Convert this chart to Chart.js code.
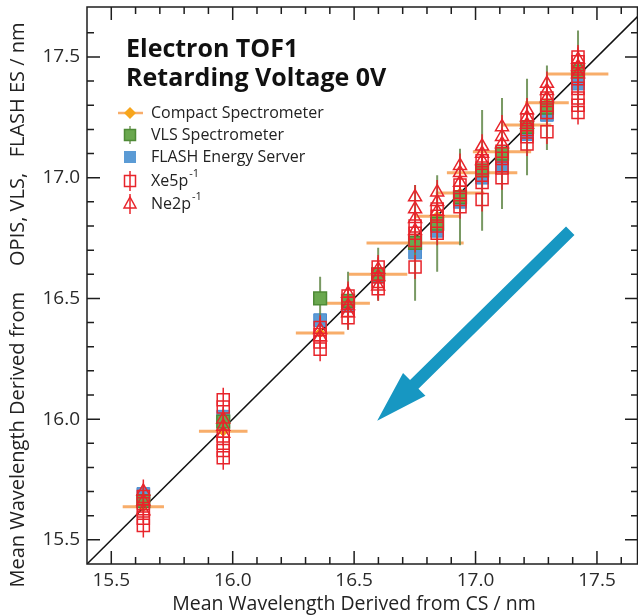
<!DOCTYPE html>
<html>
<head>
<meta charset="utf-8">
<script src="https://cdn.jsdelivr.net/npm/chart.js@4.4.0/dist/chart.umd.min.js"></script>
<style>
  html, body { margin: 0; padding: 0; background: #fff; }
  canvas { display: block; }
</style>
</head>
<body>
<canvas id="chart" width="638" height="616"></canvas>
<script>
// CS wavelength of each measurement run (nm)
const groupX = [15.632, 15.961, 16.36, 16.475, 16.599, 16.751, 16.842, 16.936, 17.027, 17.109, 17.212, 17.294, 17.422];

// compact spectrometer: value and horizontal uncertainty
const compactY = [15.637, 15.95, 16.357, 16.48, 16.60, 16.73, 16.84, 16.937, 17.02, 17.107, 17.218, 17.31, 17.43];
const compactErr = [0.085, 0.1, 0.1, 0.09, 0.12, 0.2, 0.09, 0.1, 0.145, 0.12, 0.1, 0.09, 0.125];

// VLS spectrometer with vertical uncertainty
const vlsY = [15.66, 15.99, 16.50, 16.49, 16.60, 16.73, 16.81, 16.92, 17.03, 17.10, 17.21, 17.29, 17.44];
const vlsErr = [0.04, 0.05, 0.09, 0.12, 0.11, 0.24, 0.2, 0.2, 0.25, 0.23, 0.2, 0.175, 0.17];

// FLASH energy server
const flashY = [15.69, 16.01, 16.41, 16.47, 16.59, 16.69, 16.78, 16.90, 17.00, 17.05, 17.18, 17.26, 17.39];

// OPIS Xe 5p^-1 line, several shots per run
const xeY = [
  [15.56, 15.59, 15.62, 15.65, 15.68],
  [15.84, 15.87, 15.90, 15.93, 16.05, 16.08],
  [16.29, 16.32, 16.35, 16.38],
  [16.42, 16.45, 16.48, 16.51],
  [16.54, 16.57, 16.60, 16.63],
  [16.63, 16.74, 16.77, 16.80],
  [16.77, 16.80, 16.84, 16.87],
  [16.88, 16.91, 16.94, 16.97],
  [16.91, 16.98, 17.01, 17.04, 17.07],
  [17.00, 17.04, 17.08, 17.11],
  [17.14, 17.17, 17.20, 17.24],
  [17.19, 17.27, 17.30, 17.33],
  [17.27, 17.30, 17.33, 17.37, 17.41, 17.45, 17.48, 17.50]
];

// OPIS Ne 2p^-1 line
const neY = [
  [15.62, 15.66, 15.70],
  [15.94, 15.97, 16.00],
  [16.34, 16.37],
  [16.44, 16.47, 16.52],
  [16.55, 16.59, 16.62],
  [16.78, 16.83, 16.87, 16.92],
  [16.86, 16.90, 16.94],
  [16.98, 17.02, 17.05],
  [17.07, 17.10, 17.13],
  [17.14, 17.17, 17.21],
  [17.22, 17.25, 17.28],
  [17.33, 17.36, 17.39],
  [17.43, 17.46, 17.49]
];
const opisErr = 0.05;

const tickValues = [15.5, 16.0, 16.5, 17.0, 17.5];

const RED = '#e8242b';
const ORANGE_BAR = '#f8ad6a';
const GREEN_BAR = 'rgba(98,135,72,0.85)';
const FONT = "'Open Sans', 'Noto Sans', sans-serif";

// build point lists
const xePts = [], nePts = [];
groupX.forEach((x, g) => {
  xeY[g].forEach(y => xePts.push({ x: x, y: y }));
  neY[g].forEach(y => nePts.push({ x: x, y: y }));
});
const compactPts = groupX.map((x, i) => ({ x: x, y: compactY[i] }));
const vlsPts = groupX.map((x, i) => ({ x: x, y: vlsY[i] }));
const flashPts = groupX.map((x, i) => ({ x: x, y: flashY[i] }));

// error bars are drawn just before their own dataset
const errorBars = {
  id: 'errorBars',
  beforeDatasetDraw(chart, args) {
    const ds = chart.data.datasets[args.index];
    if (!ds.errX && !ds.errY) return;
    const { ctx, chartArea: a, scales: { x, y } } = chart;
    ctx.save();
    ctx.beginPath();
    ctx.rect(a.left, a.top, a.right - a.left, a.bottom - a.top);
    ctx.clip();
    ctx.strokeStyle = ds.errColor;
    ctx.lineWidth = ds.errWidth;
    ctx.beginPath();
    ds.data.forEach((p, i) => {
      const px = x.getPixelForValue(p.x), py = y.getPixelForValue(p.y);
      if (ds.errY) {
        const e = Array.isArray(ds.errY) ? ds.errY[i] : ds.errY;
        ctx.moveTo(px, y.getPixelForValue(p.y - e));
        ctx.lineTo(px, y.getPixelForValue(p.y + e));
      }
      if (ds.errX) {
        const e = Array.isArray(ds.errX) ? ds.errX[i] : ds.errX;
        ctx.moveTo(x.getPixelForValue(p.x - e), py);
        ctx.lineTo(x.getPixelForValue(p.x + e), py);
      }
    });
    ctx.stroke();
    ctx.restore();
  }
};

// frame with inward ticks on all four sides, arrow, title, legend
const decor = {
  id: 'decor',
  afterDatasetsDraw(chart) {
    const { ctx, chartArea: a, scales: { x, y } } = chart;
    ctx.save();
    ctx.strokeStyle = '#1e1e1e';
    ctx.lineWidth = 1.5;
    ctx.strokeRect(a.left, a.top, a.right - a.left - 0.5, a.bottom - a.top);
    ctx.beginPath();
    for (let k = 150; k <= 180; k++) {
      const v = k / 10, len = k % 5 === 0 ? 13 : 7;
      const px = x.getPixelForValue(v);
      if (px > a.left + 3 && px < a.right - 3) {
        ctx.moveTo(px, a.bottom); ctx.lineTo(px, a.bottom - len);
        ctx.moveTo(px, a.top); ctx.lineTo(px, a.top + len);
      }
      const py = y.getPixelForValue(v);
      if (py > a.top + 3 && py < a.bottom - 3) {
        ctx.moveTo(a.left, py); ctx.lineTo(a.left + len, py);
        ctx.moveTo(a.right, py); ctx.lineTo(a.right - len, py);
      }
    }
    ctx.stroke();

    // blue arrow, placed in data units
    const x0 = x.getPixelForValue(17.39), y0 = y.getPixelForValue(16.78);
    const x1 = x.getPixelForValue(16.595), y1 = y.getPixelForValue(15.993);
    const ang = Math.atan2(y1 - y0, x1 - x0);
    const L = Math.hypot(x1 - x0, y1 - y0);
    ctx.translate(x0, y0);
    ctx.rotate(ang);
    ctx.fillStyle = '#1797c2';
    ctx.beginPath();
    ctx.moveTo(0, -6);
    ctx.lineTo(L - 52, -6);
    ctx.lineTo(L - 52, -16);
    ctx.lineTo(L, 0);
    ctx.lineTo(L - 52, 16);
    ctx.lineTo(L - 52, 6);
    ctx.lineTo(0, 6);
    ctx.closePath();
    ctx.fill();
    ctx.restore();

    // title
    ctx.save();
    ctx.fillStyle = '#111';
    ctx.font = 'bold 25px ' + FONT;
    ctx.textBaseline = 'alphabetic';
    ctx.fillText('Electron TOF1', 126, 57);
    ctx.fillText('Retarding Voltage 0V', 126, 86);

    // legend
    const ix = 130, tx = 151;
    const rows = [113, 135, 157, 181, 204];
    ctx.font = '16px ' + FONT;
    ctx.textBaseline = 'middle';
    ctx.fillStyle = '#222';
    ctx.fillText('Compact Spectrometer', tx, rows[0]);
    ctx.fillText('VLS Spectrometer', tx, rows[1]);
    ctx.fillText('FLASH Energy Server', tx, rows[2]);
    ctx.fillText('Xe5p', tx, rows[3]);
    ctx.fillText('Ne2p', tx, rows[4]);
    const xeW = ctx.measureText('Xe5p').width, neW = ctx.measureText('Ne2p').width;
    ctx.font = '11px ' + FONT;
    ctx.fillText('-1', tx + xeW + 1, rows[3] - 7);
    ctx.fillText('-1', tx + neW + 1, rows[4] - 7);

    // icons
    ctx.lineWidth = 2.5;
    ctx.strokeStyle = ORANGE_BAR;
    ctx.beginPath(); ctx.moveTo(ix - 12, rows[0]); ctx.lineTo(ix + 13, rows[0]); ctx.stroke();
    ctx.fillStyle = '#f7a51c';
    ctx.beginPath();
    ctx.moveTo(ix, rows[0] - 6); ctx.lineTo(ix + 6, rows[0]); ctx.lineTo(ix, rows[0] + 6); ctx.lineTo(ix - 6, rows[0]);
    ctx.closePath(); ctx.fill();

    ctx.lineWidth = 1.5;
    ctx.strokeStyle = GREEN_BAR;
    ctx.beginPath(); ctx.moveTo(ix, rows[1] - 9); ctx.lineTo(ix, rows[1] + 9); ctx.stroke();
    ctx.fillStyle = '#6aa84f'; ctx.strokeStyle = '#4e8a36';
    ctx.fillRect(ix - 5.5, rows[1] - 5.5, 11, 11); ctx.strokeRect(ix - 5.5, rows[1] - 5.5, 11, 11);

    ctx.fillStyle = '#5b9bd5';
    ctx.fillRect(ix - 6, rows[2] - 6, 12, 12);

    ctx.strokeStyle = RED;
    ctx.beginPath(); ctx.moveTo(ix, rows[3] - 10); ctx.lineTo(ix, rows[3] + 10); ctx.stroke();
    ctx.strokeRect(ix - 5.5, rows[3] - 5.5, 11, 11);
    ctx.beginPath(); ctx.moveTo(ix, rows[4] - 10); ctx.lineTo(ix, rows[4] + 10); ctx.stroke();
    ctx.beginPath();
    ctx.moveTo(ix, rows[4] - 7); ctx.lineTo(ix + 6, rows[4] + 4); ctx.lineTo(ix - 6, rows[4] + 4);
    ctx.closePath(); ctx.stroke();
    ctx.restore();
  },
  afterDraw(chart) {
    const { ctx } = chart;
    ctx.save();
    ctx.fillStyle = '#222';
    ctx.font = '19.5px ' + FONT;
    ctx.textAlign = 'center';
    ctx.textBaseline = 'alphabetic';
    ctx.fillText('Mean Wavelength Derived from CS / nm', 354, 610);
    ctx.font = '20px ' + FONT;
    ctx.translate(24, 305);
    ctx.rotate(-Math.PI / 2);
    ctx.fillText('Mean Wavelength Derived from     OPIS, VLS,   FLASH ES / nm', 0, 0);
    ctx.restore();
  }
};

const tickFont = { family: FONT, size: 19 };
const noPad = s => { s.paddingTop = 0; s.paddingBottom = 0; s.paddingLeft = 0; s.paddingRight = 0; };

new Chart(document.getElementById('chart'), {
  type: 'scatter',
  data: {
    datasets: [
      {
        type: 'line', label: 'y = x',
        data: [{ x: 15.4, y: 15.4 }, { x: 17.75, y: 17.75 }],
        borderColor: '#111', borderWidth: 1.5, pointRadius: 0, order: 10
      },
      {
        label: 'Compact Spectrometer', data: compactPts, errX: compactErr,
        errColor: ORANGE_BAR, errWidth: 3,
        pointStyle: 'rectRot', pointRadius: 5,
        backgroundColor: '#f7a51c', borderColor: '#f39a1a', borderWidth: 1, order: 7
      },
      {
        label: 'FLASH Energy Server', data: flashPts,
        pointStyle: 'rect', pointRadius: 9,
        backgroundColor: '#5b9bd5', borderColor: '#4a8bd0', borderWidth: 1, order: 6
      },
      {
        label: 'VLS Spectrometer', data: vlsPts, errY: vlsErr,
        errColor: GREEN_BAR, errWidth: 2,
        pointStyle: 'rect', pointRadius: 9,
        backgroundColor: '#6aa84f', borderColor: '#4e8a36', borderWidth: 1.5, order: 5
      },
      {
        label: 'Xe5p-1', data: xePts, errY: opisErr,
        errColor: RED, errWidth: 1.5,
        pointStyle: 'rect', pointRadius: 8.5,
        backgroundColor: 'rgba(0,0,0,0)', borderColor: RED, borderWidth: 1.5, order: 2
      },
      {
        label: 'Ne2p-1', data: nePts, errY: opisErr,
        errColor: RED, errWidth: 1.5,
        pointStyle: 'triangle', pointRadius: 7.5,
        backgroundColor: 'rgba(0,0,0,0)', borderColor: RED, borderWidth: 1.5, order: 1
      }
    ]
  },
  options: {
    responsive: false,
    animation: false,
    devicePixelRatio: 1,
    layout: { autoPadding: false, padding: { top: 7, right: 0, left: 0, bottom: 0 } },
    plugins: { legend: { display: false }, tooltip: { enabled: false } },
    scales: {
      x: {
        type: 'linear', min: 15.4, max: 17.669,
        grid: { display: false, drawTicks: false },
        border: { display: false },
        afterBuildTicks: s => { s.ticks = tickValues.map(v => ({ value: v })); },
        afterFit: s => { s.height = 52; noPad(s); },
        ticks: { font: tickFont, color: '#2a2a2a', padding: 5, maxRotation: 0, callback: v => v.toFixed(1) }
      },
      y: {
        type: 'linear', min: 15.4, max: 17.707,
        grid: { display: false, drawTicks: false },
        border: { display: false },
        afterBuildTicks: s => { s.ticks = tickValues.map(v => ({ value: v })); },
        afterFit: s => { s.width = 87; noPad(s); },
        ticks: { font: tickFont, color: '#2a2a2a', padding: 7, callback: v => v.toFixed(1) }
      }
    }
  },
  plugins: [errorBars, decor]
});
</script>
</body>
</html>
